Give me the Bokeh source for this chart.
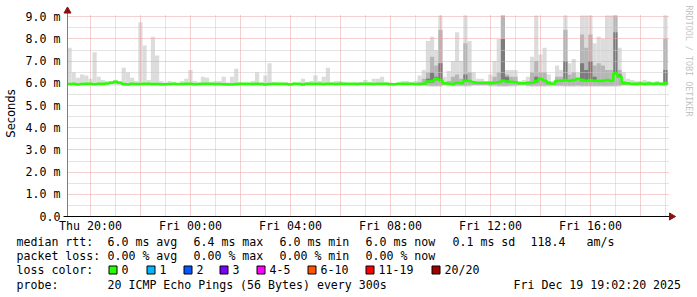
import numpy as np
from bokeh.plotting import figure
from bokeh.models import Range1d, FixedTicker, Grid
from bokeh.core.properties import value
from bokeh.embed import file_html
from bokeh.resources import INLINE

# ---------------- data ----------------
# time in hours after Thu 00:00, 10-minute bins covering the last 24 h
T0 = 19.08
BIN_H = 1.0 / 6.0

# top of the lightest smoke (max ping), ms
smoke_hi = [
    7.6, 6.5, 6.25, 6.4, 6.35, 6.2, 7.4, 6.3, 6.15, 6.1,
    6.1, 6.15, 6.1, 6.7, 6.5, 6.25, 6.1, 8.75, 7.7, 6.15,
    8.1, 7.25, 6.1, 6.05, 6.1, 6.05, 6.0, 6.1, 6.2, 6.6,
    6.1, 6.05, 6.3, 6.25, 6.05, 6.1, 6.1, 6.3, 6.05, 6.3,
    6.65, 6.05, 6.0, 6.0, 6.1, 6.5, 6.05, 6.35, 6.9, 6.05,
    6.0, 6.0, 6.05, 6.0, 6.05, 6.0, 6.2, 6.05, 6.1, 6.35,
    6.1, 6.3, 6.7, 6.05, 6.1, 6.1, 6.05, 6.0, 6.0, 6.05,
    6.05, 6.15, 6.05, 6.2, 6.2, 6.3, 6.05, 6.05, 6.0, 6.05,
    6.1, 6.1, 6.05, 6.1, 6.35, 6.6, 7.9, 8.1, 7.5, 9.05,
    6.3, 6.55, 7.0, 8.3, 7.0, 9.05, 7.9, 6.5, 6.2, 6.2,
    6.1, 6.4, 7.0, 8.0, 9.05, 6.6, 6.6, 6.6, 6.1, 6.15,
    6.3, 7.2, 9.05, 7.3, 7.6, 6.4, 6.1, 6.8, 6.6, 9.05,
    6.9, 7.1, 6.5, 9.05, 9.05, 9.05, 7.8, 8.1, 8.0, 9.05,
    9.05, 9.05, 7.6, 6.5, 6.2, 6.15, 6.1, 6.1, 6.15, 6.1,
    6.05, 6.1, 6.05, 9.05,
]

# top of the medium-grey smoke band, ms
smoke_mid = [
    5.9, 5.9, 5.9, 5.9, 5.9, 5.9, 5.9, 5.9, 5.9, 5.9,
    5.9, 5.9, 5.9, 5.9, 5.9, 5.9, 5.9, 5.9, 5.9, 5.9,
    5.9, 5.9, 5.9, 5.9, 5.9, 5.9, 5.9, 5.9, 5.9, 5.9,
    5.9, 5.9, 5.9, 5.9, 5.9, 5.9, 5.9, 5.9, 5.9, 5.9,
    5.9, 5.9, 5.9, 5.9, 5.9, 5.9, 5.9, 5.9, 5.9, 5.9,
    5.9, 5.9, 5.9, 5.9, 5.9, 5.9, 5.9, 5.9, 5.9, 5.9,
    5.9, 5.9, 5.9, 5.9, 5.9, 5.9, 5.9, 5.9, 5.9, 5.9,
    5.9, 5.9, 5.9, 5.9, 5.9, 5.9, 5.9, 5.9, 5.9, 5.9,
    5.9, 5.9, 5.9, 5.9, 6.05, 6.2, 6.5, 7.2, 6.8, 8.4,
    6.05, 6.1, 6.3, 6.4, 6.2, 7.8, 6.5, 6.1, 6.05, 6.05,
    6.0, 6.1, 6.3, 6.5, 9.05, 6.4, 6.3, 6.3, 6.0, 6.05,
    6.1, 6.5, 7.0, 6.5, 6.5, 6.1, 6.0, 6.3, 6.3, 8.4,
    6.4, 6.5, 6.2, 8.2, 7.6, 8.2, 6.8, 6.9, 6.8, 6.6,
    6.6, 9.05, 6.6, 6.1, 6.05, 6.0, 6.0, 6.0, 6.0, 6.0,
    6.0, 6.0, 6.0, 8.0,
]

# top of the darkest smoke band, ms (<= median means no band)
smoke_dark = [
    5.9, 5.9, 5.9, 5.9, 5.9, 5.9, 5.9, 5.9, 5.9, 5.9,
    5.9, 5.9, 5.9, 5.9, 5.9, 5.9, 5.9, 5.9, 5.9, 5.9,
    5.9, 5.9, 5.9, 5.9, 5.9, 5.9, 5.9, 5.9, 5.9, 5.9,
    5.9, 5.9, 5.9, 5.9, 5.9, 5.9, 5.9, 5.9, 5.9, 5.9,
    5.9, 5.9, 5.9, 5.9, 5.9, 5.9, 5.9, 5.9, 5.9, 5.9,
    5.9, 5.9, 5.9, 5.9, 5.9, 5.9, 5.9, 5.9, 5.9, 5.9,
    5.9, 5.9, 5.9, 5.9, 5.9, 5.9, 5.9, 5.9, 5.9, 5.9,
    5.9, 5.9, 5.9, 5.9, 5.9, 5.9, 5.9, 5.9, 5.9, 5.9,
    5.9, 5.9, 5.9, 5.9, 5.9, 5.9, 6.2, 6.5, 6.3, 6.9,
    5.9, 5.9, 5.9, 5.9, 5.9, 6.4, 5.9, 5.9, 5.9, 5.9,
    5.9, 5.9, 5.9, 5.9, 8.0, 6.3, 5.9, 5.9, 5.9, 5.9,
    5.9, 5.9, 6.3, 5.9, 5.9, 5.9, 5.9, 5.9, 5.9, 7.0,
    5.9, 5.9, 5.9, 6.9, 6.6, 7.0, 6.3, 5.9, 5.9, 5.9,
    5.9, 8.3, 6.4, 5.9, 5.9, 5.9, 5.9, 5.9, 5.9, 5.9,
    5.9, 5.9, 5.9, 6.6,
]

# bottom of the smoke (min ping), ms
smoke_lo = [
    5.9, 5.9, 5.9, 5.9, 5.9, 5.9, 5.9, 5.9, 5.9, 5.9,
    5.9, 5.9, 5.9, 5.9, 5.9, 5.9, 5.9, 5.9, 5.9, 5.9,
    5.9, 5.9, 5.9, 5.9, 5.9, 5.9, 5.9, 5.9, 5.9, 5.9,
    5.9, 5.9, 5.9, 5.9, 5.9, 5.9, 5.9, 5.9, 5.9, 5.9,
    5.9, 5.9, 5.9, 5.9, 5.9, 5.9, 5.9, 5.9, 5.9, 5.9,
    5.9, 5.9, 5.9, 5.9, 5.9, 5.9, 5.9, 5.9, 5.9, 5.9,
    5.9, 5.9, 5.9, 5.9, 5.9, 5.9, 5.9, 5.9, 5.9, 5.9,
    5.9, 5.9, 5.9, 5.9, 5.9, 5.9, 5.9, 5.9, 5.9, 5.9,
    5.9, 5.9, 5.9, 5.9, 5.88, 5.88, 5.86, 5.85, 5.85, 5.85,
    5.88, 5.88, 5.86, 5.86, 5.86, 5.85, 5.86, 5.88, 5.88, 5.88,
    5.88, 5.86, 5.86, 5.85, 5.85, 5.85, 5.86, 5.86, 5.88, 5.88,
    5.86, 5.85, 5.85, 5.85, 5.85, 5.86, 5.88, 5.86, 5.86, 5.85,
    5.85, 5.85, 5.86, 5.85, 5.85, 5.85, 5.85, 5.85, 5.85, 5.85,
    5.85, 5.85, 5.86, 5.88, 5.88, 5.88, 5.88, 5.88, 5.88, 5.88,
    5.88, 5.88, 5.88, 5.86,
]

# median rtt, ms
median_rtt = [
    5.97, 5.98, 5.95, 5.97, 5.98, 5.98, 5.96, 5.98, 5.98, 5.99,
    6.02, 6.07, 6.02, 5.97, 5.95, 5.98, 5.97, 5.97, 5.98, 5.98,
    5.97, 5.97, 5.96, 5.96, 5.97, 5.98, 5.97, 5.97, 5.98, 5.98,
    5.96, 5.97, 5.98, 5.98, 5.98, 5.97, 5.97, 5.96, 5.95, 5.95,
    5.97, 5.98, 5.98, 5.98, 5.97, 5.98, 5.97, 5.95, 5.97, 5.98,
    5.98, 5.98, 5.97, 5.95, 5.98, 5.98, 5.95, 5.98, 5.98, 5.98,
    5.98, 5.97, 5.98, 5.98, 5.97, 5.98, 5.98, 5.98, 5.98, 5.97,
    5.98, 5.98, 5.98, 5.97, 5.98, 5.98, 5.98, 5.96, 5.96, 5.98,
    5.98, 5.98, 5.98, 5.97, 5.97, 5.98, 6.08, 6.1, 6.2, 6.15,
    6.0, 5.98, 5.97, 6.02, 6.0, 6.12, 6.1, 6.05, 6.03, 6.02,
    6.02, 6.0, 6.03, 6.05, 6.12, 6.08, 6.07, 6.05, 6.0, 6.0,
    6.0, 6.02, 6.1, 6.2, 6.12, 6.0, 5.98, 6.1, 6.12, 6.15,
    6.12, 6.15, 6.2, 6.15, 6.12, 6.15, 6.12, 6.1, 6.12, 6.15,
    6.12, 6.45, 6.3, 6.0, 6.0, 5.98, 5.98, 5.99, 5.98, 5.99,
    5.98, 5.99, 5.98, 6.0,
]

y_ticks = [0, 1, 2, 3, 4, 5, 6, 7, 8, 9]
y_tick_labels = ["0.0", "1.0 m", "2.0 m", "3.0 m", "4.0 m", "5.0 m",
                 "6.0 m", "7.0 m", "8.0 m", "9.0 m"]
x_ticks = [20, 24, 28, 32, 36, 40]
x_tick_labels = ["Thu 20:00", "Fri 00:00", "Fri 04:00", "Fri 08:00",
                 "Fri 12:00", "Fri 16:00"]

y_title = "Seconds"
rtt_label = "median rtt:"
rtt_items = ["6.0 ms avg", "6.4 ms max", "6.0 ms min", "6.0 ms now",
             "0.1 ms sd", "118.4", "am/s"]
loss_label = "packet loss:"
loss_items = ["0.00 % avg", "0.00 % max", "0.00 % min", "0.00 % now"]
color_label = "loss color:"
loss_names = ["0", "1", "2", "3", "4-5", "6-10", "11-19", "20/20"]
loss_colors = ["#26ff00", "#00b8ff", "#0059ff", "#7e00ff", "#ff00ff",
               "#ff5500", "#ff0000", "#a10000"]
probe_label = "probe:"
probe_text = "20 ICMP Echo Pings (56 Bytes) every 300s"
stamp_text = "Fri Dec 19 19:02:20 2025"
credit_text = "RRDTOOL / TOBI OETIKER"

# ---------------- layout ----------------
W, H = 697, 297
AX_X, AX_Y = 67, 216        # canvas px of the axes origin
PX_PER_H = 25.0
PX_PER_MS = 22.2
MONO = "DejaVu Sans Mono"
FS = "11.6px"


def X(px):
    return T0 + (px - AX_X) / PX_PER_H


def Y(py):
    return (AX_Y - py) / PX_PER_MS


p = figure(width=W, height=H,
           x_range=Range1d(X(0), X(W)), y_range=Range1d(Y(H), Y(0)),
           output_backend="svg", toolbar_location=None,
           min_border=0, min_border_left=0, min_border_right=0,
           min_border_top=0, min_border_bottom=0)
p.outline_line_color = None
p.background_fill_color = "white"
p.border_fill_color = "white"
p.xgrid.visible = False
p.ygrid.visible = False

n = len(median_rtt)
left = T0 + np.arange(n) * BIN_H
right = left + BIN_H
hi = np.array(smoke_hi)
mid = np.array(smoke_mid)
dk = np.array(smoke_dark)
lo = np.array(smoke_lo)
med = np.array(median_rtt)

# smoke
p.quad(left=left, right=right, bottom=lo, top=hi,
       fill_color="#dcdcdc", line_color=None)
m = mid > lo + 0.01
p.quad(left=left[m], right=right[m], bottom=lo[m] + 0.04, top=mid[m],
       fill_color="#b6b6b6", line_color=None)
d = dk > med
p.quad(left=left[d], right=right[d], bottom=med[d] - 0.06, top=dk[d],
       fill_color="#7c7c7c", line_color=None)

# grids (over the smoke)
minor_v = [h for h in range(20, 44) if h % 2 == 1]
major_v = [h for h in range(20, 44, 2)]
minor_h = [k + 0.5 for k in range(0, 9)]
major_h = [k for k in range(1, 10)]
vb = (0, Y(14))
hb = (X(AX_X), X(668))
gkw = dict(grid_line_dash="1 1", grid_line_width=1, level="guide")
p.add_layout(Grid(dimension=0, ticker=FixedTicker(ticks=minor_v),
                  grid_line_color="#c8c8c8", cross_bounds=vb, **gkw))
p.add_layout(Grid(dimension=1, ticker=FixedTicker(ticks=minor_h),
                  grid_line_color="#c8c8c8", cross_bounds=hb, **gkw))
p.add_layout(Grid(dimension=0, ticker=FixedTicker(ticks=major_v),
                  grid_line_color="#eba0a0", cross_bounds=vb, **gkw))
p.add_layout(Grid(dimension=1, ticker=FixedTicker(ticks=major_h),
                  grid_line_color="#eba0a0", cross_bounds=hb, **gkw))

# median line (stepped)
mx = np.column_stack([left, right]).ravel()
my = np.column_stack([med, med]).ravel()
p.line(mx, my, line_color="#26ff00", line_width=2.5, level="annotation")

# axes placed at the origin inside the canvas
p.xaxis.fixed_location = 0
p.yaxis.fixed_location = T0
p.yaxis.ticker = FixedTicker(ticks=y_ticks)
p.yaxis.major_label_overrides = {t: s for t, s in zip(y_ticks, y_tick_labels)}
p.xaxis.ticker = FixedTicker(ticks=x_ticks)
p.xaxis.major_label_overrides = {t: s for t, s in zip(x_ticks, x_tick_labels)}
for ax in (p.xaxis[0], p.yaxis[0]):
    ax.major_tick_in = 0
    ax.major_tick_out = 0
    ax.minor_tick_in = 0
    ax.minor_tick_out = 0
    ax.axis_line_color = None
    ax.major_label_text_font = MONO
    ax.major_label_text_font_size = FS
    ax.major_label_text_color = "black"
p.yaxis.major_label_standoff = 7
p.xaxis.major_label_standoff = 2

# axis lines and arrow heads
p.line([X(AX_X), X(AX_X)], [0, Y(12)], line_color="#808080", line_width=1,
       level="annotation")
p.line([X(63), X(670)], [0, 0], line_color="black", line_width=1,
       level="annotation")
AR = "#8b1010"
p.scatter([X(AX_X)], [Y(10.5)], marker="triangle", size=7,
          fill_color=AR, line_color=AR, level="annotation")
p.scatter([X(671)], [0], marker="triangle", size=7, angle=-np.pi / 2,
          fill_color=AR, line_color=AR, level="annotation")

# y axis title
p.text([X(10)], [Y(113)], text=[y_title], angle=np.pi / 2,
       text_font=value("DejaVu Sans"), text_font_size=value("11.5px"),
       text_align="center", text_baseline="middle", text_color="black")

# legend text lines
tx, ty, tt = [], [], []


def put(px, py, s):
    tx.append(X(px))
    ty.append(Y(py))
    tt.append(s)


col_x = [107, 193, 279, 365, 452, 530, 586]
put(16, 241, rtt_label)
for xx, s in zip(col_x, rtt_items):
    put(xx, 241, s)
put(16, 255, loss_label)
for xx, s in zip(col_x, loss_items):
    put(xx, 255, s)
put(16, 269, color_label)
box_x = [108, 146, 183, 219, 256, 307, 365, 431]
for xx, name in zip(box_x, loss_names):
    put(xx + 13, 269, name)
put(16, 284, probe_label)
put(107, 284, probe_text)
put(513, 284, stamp_text)
p.text(tx, ty, text=tt, text_font=value(MONO), text_font_size=value(FS),
       text_align="left", text_baseline="middle", text_color="black")

# loss colour boxes
bl = [X(xx + 0.5) for xx in box_x]
br = [X(xx + 8.5) for xx in box_x]
p.quad(left=bl, right=br, top=[Y(265.5)] * len(bl), bottom=[Y(273.5)] * len(bl),
       fill_color=loss_colors, line_color="black", line_width=1)

# vertical credit
p.text([X(688)], [Y(5)], text=[credit_text], angle=-np.pi / 2,
       text_font=value(MONO), text_font_size=value("8.4px"),
       text_align="left", text_baseline="middle", text_color="#c4c4c4")

open("out.html", "w").write(file_html(p, INLINE))
